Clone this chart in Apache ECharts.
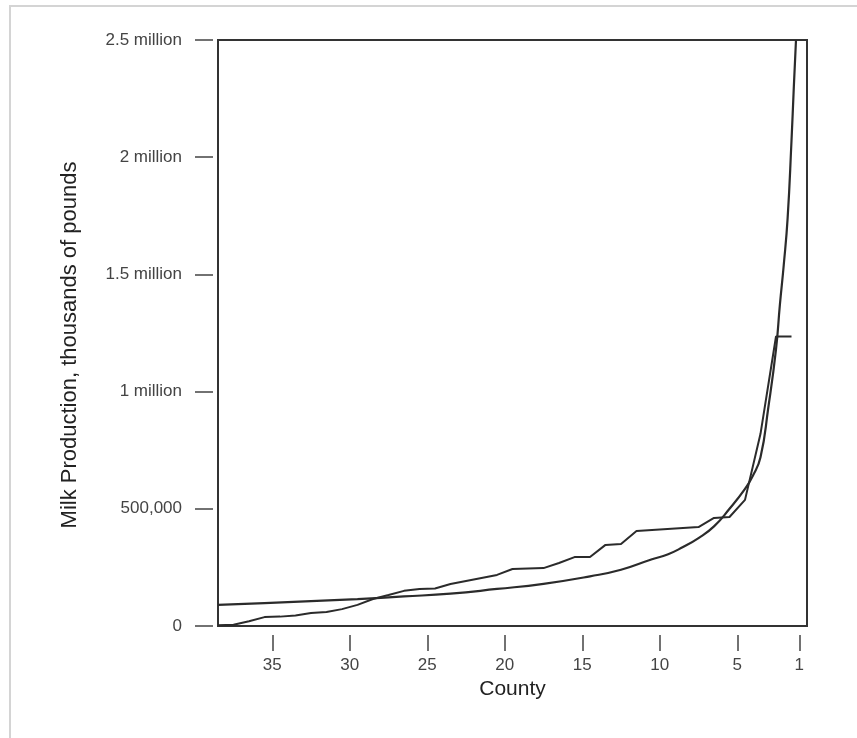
<!DOCTYPE html>
<html lang="en">
<head>
	<meta charset="UTF-8">
	<title>Milk Production by County</title>
	<script src="https://cdn.jsdelivr.net/npm/echarts@6/dist/echarts.min.js"></script>
	<style>
		html, body { margin: 0; padding: 0; background: #fff; }
	</style>
</head>
<body>
	<div id="chart" style="width: 857px;height: 738px;"></div>
	<script>
		// county rank positions (left = 38, right = 1) and production in thousands of pounds
		var countyPos = [38, 37, 36, 35, 34, 33, 32, 31, 30, 29, 28, 27, 26, 25, 24, 23, 22, 21, 20,
			19, 18, 17, 16, 15, 14, 13, 12, 11, 10, 9, 8, 7, 6, 5, 4, 3, 2, 1];
		var production = [3000, 5000, 20000, 38000, 40000, 45000, 55000, 60000, 72000, 90000, 115000,
			132000, 150000, 158000, 160000, 179000, 192000, 205000, 218000, 243000, 245000, 247000,
			269000, 294000, 294000, 346000, 350000, 405000, 410000, 414000, 418000, 422000, 461000,
			465000, 538000, 820000, 1235000, 1235000];

		// fitted curve
		var fitPos = [38, 35, 32, 29, 26, 23, 20, 17, 14, 12, 10, 9, 8, 7, 6, 5, 4, 3.5, 3, 2.5, 2,
			1.75, 1.5, 1.25, 1, 0.85, 0.71];
		var fitValue = [90000, 98000, 106000, 115000, 126000, 138000, 158000, 180000, 212000, 240000,
			285000, 305000, 337000, 375000, 425000, 500000, 585000, 640000, 720000, 930000, 1180000,
			1370000, 1540000, 1740000, 2070000, 2300000, 2500000];

		var xTickLabels = [35, 30, 25, 20, 15, 10, 5, 1];
		var yTickLabels = ['0', '500,000', '1 million', '1.5 million', '2 million', '2.5 million'];

		function pairs(xs, ys) {
			var out = [];
			for (var i = 0; i < xs.length; i++) out.push([xs[i], ys[i]]);
			return out;
		}

		var xTickPos = xTickLabels.map(function (v) { return v - 0.5; });
		var ink = '#2b2b2b';
		var font = '"Liberation Sans", Arial, Helvetica, sans-serif';

		var option = {
			animation: false,
			backgroundColor: '#fff',
			graphic: [{
				type: 'rect',
				shape: { x: 10, y: 6, width: 860, height: 740 },
				style: { fill: 'none', stroke: '#d4d4d4', lineWidth: 2 },
				silent: true
			}],
			grid: {
				left: 218,
				right: 50,
				top: 40,
				bottom: 112,
				show: true,
				borderColor: '#333',
				borderWidth: 2,
				backgroundColor: 'transparent'
			},
			xAxis: {
				type: 'value',
				inverse: true,
				min: 0,
				max: 38,
				offset: 9,
				name: 'County',
				nameLocation: 'middle',
				nameGap: 44,
				nameTextStyle: { fontFamily: font, fontSize: 21, color: '#222' },
				axisLine: { show: false, onZero: false },
				splitLine: { show: false },
				axisTick: {
					show: true,
					length: 16,
					customValues: xTickPos,
					lineStyle: { color: '#444', width: 1.5 }
				},
				axisLabel: {
					customValues: xTickPos,
					margin: 22,
					fontFamily: font,
					fontSize: 17,
					color: '#444',
					formatter: function (v) { return String(Math.round(v + 0.5)); }
				}
			},
			yAxis: {
				type: 'value',
				min: 0,
				max: 2500000,
				interval: 500000,
				offset: 5,
				name: 'Milk Production, thousands of pounds',
				nameLocation: 'middle',
				nameGap: 132,
				nameRotate: 90,
				nameTextStyle: { fontFamily: font, fontSize: 22, color: '#222', padding: [0, 24, 0, 0] },
				axisLine: { show: false, onZero: false },
				splitLine: { show: false },
				axisTick: {
					show: true,
					inside: false,
					length: 18,
					lineStyle: { color: '#444', width: 1.5 }
				},
				axisLabel: {
					margin: 31,
					fontFamily: font,
					fontSize: 17,
					color: '#444',
					formatter: function (v) { return yTickLabels[Math.round(v / 500000)]; }
				}
			},
			series: [{
				name: 'Counties',
				type: 'line',
				data: pairs(countyPos, production),
				showSymbol: false,
				symbol: 'none',
				lineStyle: { color: ink, width: 2 },
				z: 3
			}, {
				name: 'Fit',
				type: 'line',
				smooth: 0.5,
				data: pairs(fitPos, fitValue),
				showSymbol: false,
				symbol: 'none',
				lineStyle: { color: ink, width: 2.2 },
				z: 4
			}]
		};

		var myChart = echarts.init(document.getElementById('chart'));
		myChart.setOption(option);
	</script>
</body>
</html>
